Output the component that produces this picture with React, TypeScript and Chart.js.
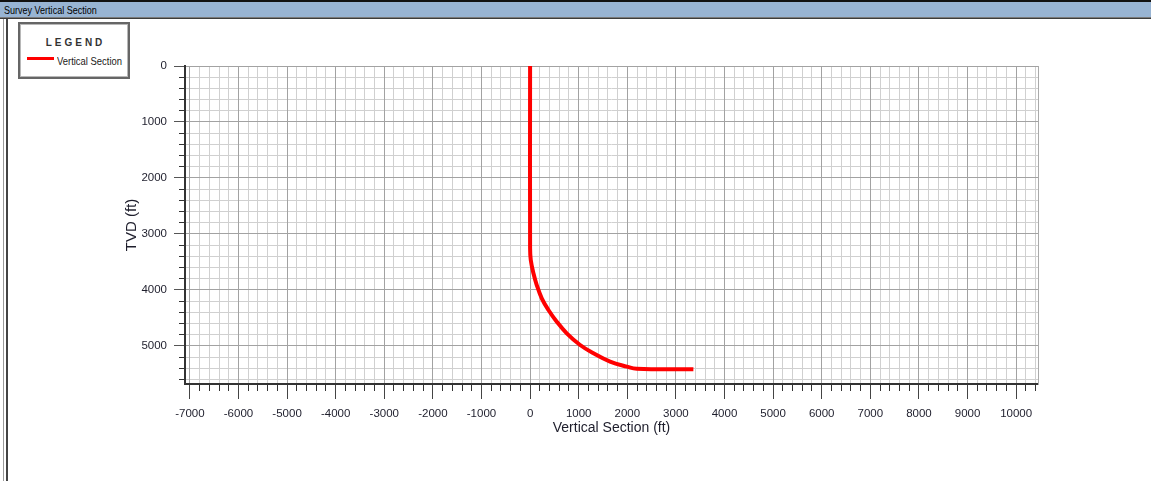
import { useEffect, useRef } from "react";
import { Chart, registerables } from "chart.js";

Chart.register(...registerables);

// ---- data ----
const verticalSectionFt = [0, 0, 14, 69, 137, 240, 377, 549, 754, 1029, 1303, 1646, 1989, 2195, 3360];
const tvdFt = [0, 3250, 3466, 3703, 3912, 4150, 4358, 4567, 4775, 4983, 5131, 5280, 5369, 5408, 5418];

const xMajorTicks = [-7000, -6000, -5000, -4000, -3000, -2000, -1000, 0, 1000, 2000, 3000, 4000, 5000, 6000, 7000, 8000, 9000, 10000];
const yMajorTicks = [0, 1000, 2000, 3000, 4000, 5000];
const xRange = [-7100, 10450];
const yRange = [0, 5680];
const minorStep = 200;

const SANS = "'Liberation Sans', Arial, sans-serif";
const TEXT = "#1e1e2c";

export default function App() {
  const ref = useRef<HTMLCanvasElement>(null);

  useEffect(() => {
    const canvas = ref.current;
    if (!canvas) return;
    const chart = new Chart(canvas, {
      type: "line",
      data: {
        datasets: [
          {
            label: "Vertical Section",
            data: verticalSectionFt.map((x, i) => ({ x, y: tvdFt[i] })),
            borderColor: "#ff0000",
            borderWidth: 4,
            pointRadius: 0,
            tension: 0.4,
            fill: false,
            xAxisID: "x",
            yAxisID: "y",
          },
        ],
      },
      options: {
        responsive: false,
        animation: false,
        events: [],
        layout: { padding: { left: 110, top: 66, right: 113, bottom: 44 } },
        plugins: { legend: { display: false }, tooltip: { enabled: false } },
        scales: {
          xMinor: {
            type: "linear",
            position: "bottom",
            weight: 0,
            min: xRange[0],
            max: xRange[1],
            ticks: { display: false, stepSize: minorStep, includeBounds: false },
            grid: { color: "#d0d0d0", lineWidth: 1, tickLength: 7, tickColor: "#333" },
            border: { display: false },
            afterFit: (s: any) => {
              s.height = 0;
            },
          },
          yMinor: {
            type: "linear",
            position: "left",
            weight: 0,
            reverse: true,
            min: yRange[0],
            max: yRange[1],
            ticks: { display: false, stepSize: minorStep, includeBounds: false },
            grid: { color: "#d0d0d0", lineWidth: 1, tickLength: 6, tickColor: "#333" },
            border: { display: false },
            afterFit: (s: any) => {
              s.width = 0;
            },
          },
          x: {
            type: "linear",
            position: "bottom",
            weight: 1,
            min: xRange[0],
            max: xRange[1],
            afterBuildTicks: (s: any) => {
              s.ticks = xMajorTicks.map((value) => ({ value }));
            },
            ticks: {
              font: { family: SANS, size: 11.5 },
              color: TEXT,
              padding: 8,
              maxRotation: 0,
              autoSkip: false,
              callback: (v: any) => String(v),
            },
            grid: { color: "#a2a2a2", lineWidth: 1, tickLength: 15, tickColor: "#444" },
            border: { display: true, color: "#333", width: 2 },
            title: {
              display: true,
              text: "Vertical Section (ft)",
              font: { family: SANS, size: 14 },
              color: TEXT,
              padding: { top: 0, bottom: 0 },
            },
            afterFit: (s: any) => {
              s.height = 53;
            },
          },
          y: {
            type: "linear",
            position: "left",
            weight: 1,
            reverse: true,
            min: yRange[0],
            max: yRange[1],
            afterBuildTicks: (s: any) => {
              s.ticks = yMajorTicks.map((value) => ({ value }));
            },
            ticks: {
              font: { family: SANS, size: 11.5 },
              color: TEXT,
              padding: 7,
              autoSkip: false,
              callback: (v: any) => String(v),
            },
            grid: { color: "#a2a2a2", lineWidth: 1, tickLength: 11, tickColor: "#555" },
            border: { display: true, color: "#333", width: 2 },
            title: {
              display: true,
              text: "TVD (ft)",
              font: { family: SANS, size: 15 },
              color: TEXT,
              padding: { top: 12.7, bottom: 0 },
            },
            afterFit: (s: any) => {
              s.width = 75;
            },
          },
          yRight: {
            type: "linear",
            position: "right",
            min: yRange[0],
            max: yRange[1],
            ticks: { display: false },
            grid: { display: false, drawTicks: false },
            border: { display: true, color: "#aaaaaa", width: 1 },
            afterFit: (s: any) => {
              s.width = 0;
            },
          },
        },
      } as any,
    });
    return () => chart.destroy();
  }, []);

  const narrow = { transform: "scaleX(0.82)", transformOrigin: "0 50%" } as const;

  return (
    <div
      style={{
        position: "absolute",
        left: 0,
        top: 0,
        width: 1151,
        height: 481,
        background: "#ffffff",
        overflow: "hidden",
      }}
    >
      {/* window title bar */}
      <div style={{ position: "absolute", left: 0, top: 0, width: 1151, height: 2, background: "#111" }} />
      <div style={{ position: "absolute", left: 0, top: 2, width: 1151, height: 15, background: "#98b4d3" }} />
      <div style={{ position: "absolute", left: 0, top: 17, width: 1151, height: 1, background: "#7a7a7a" }} />
      <div style={{ position: "absolute", left: 0, top: 18, width: 1151, height: 1, background: "#3c3c3c" }} />
      <div
        style={{
          position: "absolute",
          left: 4,
          top: 3,
          height: 14,
          lineHeight: "14px",
          fontFamily: SANS,
          fontSize: 11,
          color: "#000",
          whiteSpace: "nowrap",
          ...narrow,
        }}
      >
        Survey Vertical Section
      </div>
      {/* window left frame */}
      <div style={{ position: "absolute", left: 3, top: 19, width: 1, height: 462, background: "#9a9a9a" }} />
      <div style={{ position: "absolute", left: 6, top: 19, width: 2, height: 462, background: "#444" }} />

      <canvas
        ref={ref}
        width={1151}
        height={481}
        style={{ position: "absolute", left: 0, top: 0, width: 1151, height: 481 }}
      />

      {/* legend */}
      <div
        style={{
          position: "absolute",
          left: 18,
          top: 22,
          width: 108,
          height: 53,
          border: "2px solid #666",
          boxShadow: "inset 0 0 0 1px #b8b8b8",
          background: "#fff",
          fontFamily: SANS,
          color: "#222",
        }}
      >
        <div
          style={{
            position: "absolute",
            left: 0,
            top: 13,
            width: 108,
            textAlign: "center",
            fontSize: 10,
            fontWeight: "bold",
            letterSpacing: 3,
            lineHeight: "12px",
            color: "#333",
            paddingLeft: 3,
            boxSizing: "border-box",
          }}
        >
          LEGEND
        </div>
        <div style={{ position: "absolute", left: 7, top: 33, width: 27, height: 3, background: "#ff0000" }} />
        <div
          style={{
            position: "absolute",
            left: 37,
            top: 30,
            fontSize: 11.5,
            lineHeight: "14px",
            whiteSpace: "nowrap",
            color: "#1a1a1a",
            ...narrow,
          }}
        >
          Vertical Section
        </div>
      </div>
    </div>
  );
}
